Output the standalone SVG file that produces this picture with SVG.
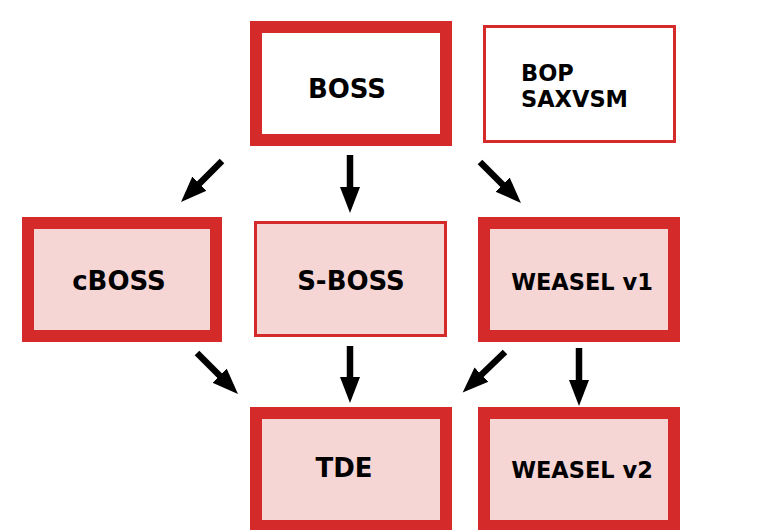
<svg xmlns="http://www.w3.org/2000/svg" width="770" height="530" viewBox="0 0 770 530">
<style>
.thick{fill:#f6d5d5;stroke:#d42a2a;stroke-width:12}
.thin{fill:#f6d5d5;stroke:#d42a2a;stroke-width:3}
.white{fill:#ffffff}
.lbl{font-family:"DejaVu Sans",sans-serif;font-weight:bold;fill:#000;text-anchor:middle}
.big{font-size:26px}
.small{font-size:22.5px}
.arr{stroke:#000;stroke-width:6.5;fill:none;marker-end:url(#ah)}
</style>
<defs>
<marker id="ah" markerUnits="userSpaceOnUse" markerWidth="28" markerHeight="22" refX="2" refY="10" orient="auto" viewBox="0 0 28 20">
<path d="M0,0 L26,10 L0,20 z" fill="#000"/>
</marker>
</defs>
<rect width="770" height="530" fill="#ffffff"/>
<g id="BOSS">
<rect class="thick white" x="256" y="27" width="190" height="113"/>
<text class="lbl big" x="347" y="98">BOSS</text>
</g>
<g id="BOP_SAXVSM">
<rect class="thin white" x="484.5" y="26.5" width="190" height="115"/>
<text class="lbl small" x="521" y="81" style="text-anchor:start">BOP</text>
<text class="lbl small" x="521" y="107" style="text-anchor:start">SAXVSM</text>
</g>
<g id="cBOSS">
<rect class="thick" x="28" y="223" width="188" height="113"/>
<text class="lbl big" x="119" y="290">cBOSS</text>
</g>
<g id="S-BOSS">
<rect class="thin" x="255.5" y="222.5" width="190" height="113"/>
<text class="lbl big" x="351" y="290">S-BOSS</text>
</g>
<g id="WEASEL_v1">
<rect class="thick" x="484" y="223" width="190" height="113"/>
<text class="lbl small" x="582" y="290">WEASEL v1</text>
</g>
<g id="TDE">
<rect class="thick" x="256" y="413" width="190" height="113"/>
<text class="lbl big" x="344" y="477">TDE</text>
</g>
<g id="WEASEL_v2">
<rect class="thick" x="484" y="413" width="190" height="113"/>
<text class="lbl small" x="582" y="478">WEASEL v2</text>
</g>
<g id="connectors">
<line class="arr" x1="222" y1="161" x2="198" y2="185"/>
<line class="arr" x1="350" y1="155" x2="350" y2="189"/>
<line class="arr" x1="480" y1="162" x2="504" y2="186"/>
<line class="arr" x1="197" y1="353" x2="221" y2="377"/>
<line class="arr" x1="350" y1="346" x2="350" y2="379"/>
<line class="arr" x1="505" y1="352" x2="480" y2="376"/>
<line class="arr" x1="579" y1="348" x2="579" y2="382"/>
</g>
</svg>
